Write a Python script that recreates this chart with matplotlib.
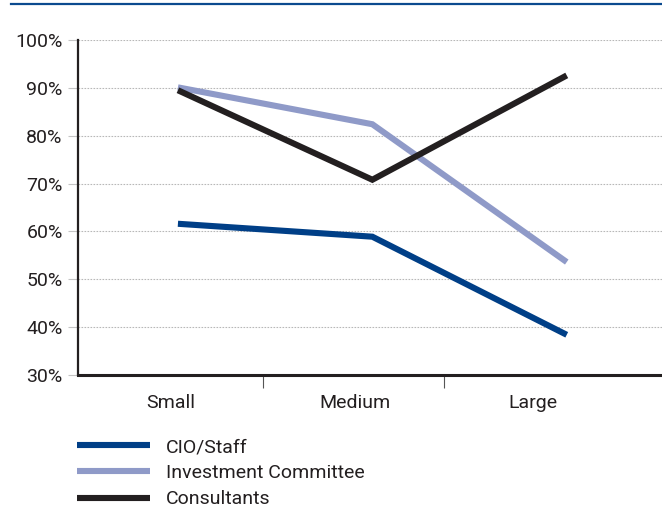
import matplotlib.pyplot as plt
from matplotlib.lines import Line2D

# share of respondents by plan size
sizes = ['Small', 'Medium', 'Large']
cio_staff = [61.6, 58.9, 38.4]
investment_committee = [90.1, 82.4, 53.6]
consultants = [89.5, 70.8, 92.6]

yticks = [30, 40, 50, 60, 70, 80, 90, 100]

plt.rcParams['font.family'] = ['Roboto', 'DejaVu Sans']
text_col = '#231f20'
fs = 14

fig = plt.figure(figsize=(6.62, 5.09), dpi=100)
ax = fig.add_axes([78 / 662, 134 / 509, 584 / 662, 335 / 509])

x = [0, 1, 2]
ax.plot(x, cio_staff, color='#003f87', lw=4.4, solid_capstyle='butt', solid_joinstyle='miter', label='CIO/Staff', zorder=3)
ax.plot(x, investment_committee, color='#8f9ac8', lw=4.4, solid_capstyle='butt', solid_joinstyle='miter', label='Investment Committee', zorder=3)
ax.plot(x, consultants, color='#231f20', lw=4.4, solid_capstyle='butt', solid_joinstyle='miter', label='Consultants', zorder=4)

ax.set_xlim(-0.514, 2.49)
ax.set_ylim(30, 100)

ax.set_yticks(yticks)
ax.set_yticklabels([f'{v}%' for v in yticks], fontsize=fs, color=text_col)
ax.tick_params(axis='y', length=7, width=0.8, color='#c4c4c4', pad=4)
ax.yaxis.grid(True, ls=(0, (1.5, 1.2)), color='#b8b8b8', lw=0.8)
ax.set_axisbelow(True)

# category separators on the x axis, names placed under each band
ax.set_xticks([0.437, 1.368])
ax.set_xticklabels([])
ax.tick_params(axis='x', length=9, width=0.8, color='#555555', direction='out')
for xp, name in zip([-0.036, 0.91, 1.825], sizes):
    ax.text(xp, -0.085, name, transform=ax.get_xaxis_transform(), ha='center', va='center',
            fontsize=fs, color=text_col)

for side in ['top', 'right']:
    ax.spines[side].set_visible(False)
ax.spines['left'].set_color(text_col)
ax.spines['left'].set_linewidth(1.6)
ax.spines['bottom'].set_color(text_col)
ax.spines['bottom'].set_linewidth(2.2)

# rule across the top
fig.add_artist(Line2D([11 / 662, 1], [1 - 4 / 509, 1 - 4 / 509], color='#0b4a8f', lw=1.6))

leg = fig.legend(loc='upper left', bbox_to_anchor=(77 / 662, 1 - 438 / 509), frameon=False,
                 fontsize=fs, handlelength=3.76, handletextpad=0.82, labelspacing=0.42,
                 borderaxespad=0, borderpad=0)
for t in leg.get_texts():
    t.set_color(text_col)

fig.savefig('out.png', dpi=100)
